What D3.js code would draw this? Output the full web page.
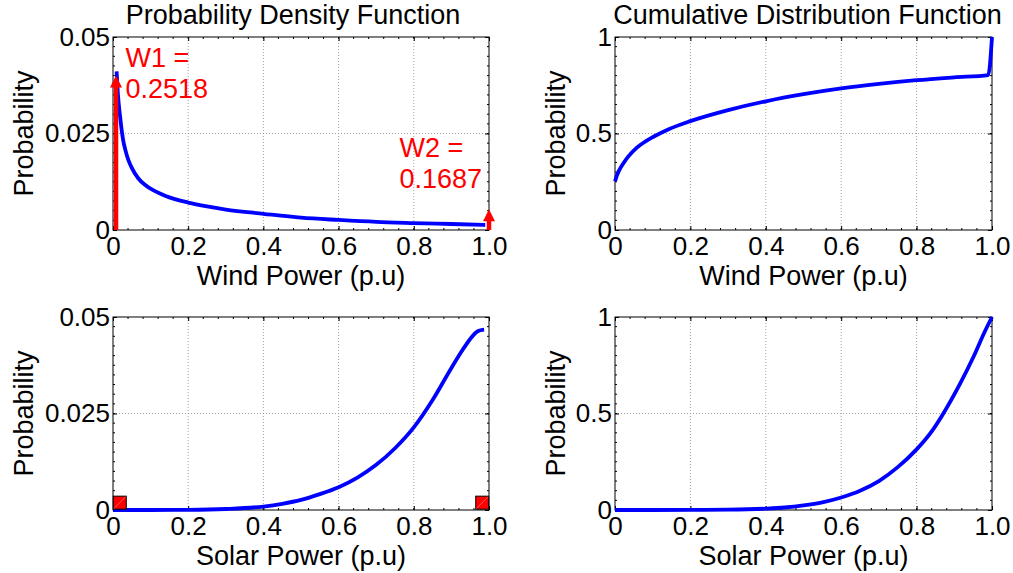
<!DOCTYPE html>
<html>
<head>
<meta charset="utf-8">
<script src="https://cdn.jsdelivr.net/npm/d3@7"></script>
<style>
  body { margin: 0; background: #fff; }
  svg text { font-family: "Liberation Sans", Arial, Helvetica, sans-serif; }
</style>
</head>
<body>
<div id="chart"></div>
<script>
// tick values and labels
var xTicks = [0, 0.2, 0.4, 0.6, 0.8, 1.0];
var xTickLabels = ["0", "0.2", "0.4", "0.6", "0.8", "1.0"];
var pdfTicks = [0, 0.025, 0.05];
var pdfTickLabels = ["0", "0.025", "0.05"];
var cdfTicks = [0, 0.5, 1];
var cdfTickLabels = ["0", "0.5", "1"];

// wind power pdf
var windPdfX = [0.0096, 0.013, 0.0186, 0.022, 0.027, 0.033, 0.041, 0.05, 0.067, 0.085, 0.1, 0.14, 0.2, 0.25, 0.3, 0.4, 0.5, 0.6, 0.7, 0.8, 0.9, 0.99];
var windPdfY = [0.0411, 0.0353, 0.0296, 0.0267, 0.0233, 0.0207, 0.0181, 0.0161, 0.0134, 0.0117, 0.0107, 0.0088, 0.0071, 0.0061, 0.0053, 0.0042, 0.0032, 0.0026, 0.0021, 0.0018, 0.00155, 0.0013];

// wind power cdf
var windCdfX = [0, 0.004, 0.01, 0.022, 0.035, 0.058, 0.08, 0.102, 0.141, 0.2, 0.3, 0.4, 0.5, 0.6, 0.7, 0.8, 0.9, 0.99, 1.0];
var windCdfY = [0.2518, 0.277, 0.305, 0.345, 0.38, 0.427, 0.458, 0.483, 0.521, 0.564, 0.621, 0.667, 0.704, 0.734, 0.757, 0.776, 0.791, 0.803, 1.0];

// solar power pdf
var solarPdfX = [0, 0.1, 0.2, 0.3, 0.4, 0.45, 0.5, 0.55, 0.6, 0.65, 0.7, 0.75, 0.8, 0.85, 0.9, 0.93, 0.95, 0.97, 0.987];
var solarPdfY = [0, 0.000001, 0.00004, 0.00026, 0.0009, 0.0016, 0.0026, 0.0041, 0.0059, 0.0084, 0.0117, 0.0160, 0.0214, 0.0285, 0.0368, 0.0415, 0.0443, 0.0463, 0.0467];

// solar power cdf
var solarCdfX = [0, 0.2, 0.3, 0.4, 0.45, 0.5, 0.55, 0.6, 0.65, 0.7, 0.75, 0.8, 0.844, 0.871, 0.915, 0.95, 0.981, 1.0];
var solarCdfY = [0, 0.0003, 0.0015, 0.007, 0.013, 0.024, 0.040, 0.065, 0.10, 0.150, 0.222, 0.314, 0.418, 0.5, 0.653, 0.79, 0.925, 1.0];

// probability masses of wind at 0 and 1 (arrows + text)
var windMassX = [0.008, 1.0];
var windMassTip = [0.040, 0.0054];
var windMassText = [["W1 =", "0.2518"], ["W2 =", "0.1687"]];
var windTextX = [0.033, 0.762];
var windTextY = [0.0422, 0.0189];

// solar end markers
var solarMarkX = [0.018, 0.982];
var solarMarkY = [0.0019, 0.0019];

var W = 1013, H = 573;
var FS = 27;      // titles, axis labels, annotations
var TICK_FS = 26; // tick labels

var svg = d3.select("#chart").append("svg")
    .attr("width", W)
    .attr("height", H);

var panels = [
    { left: 113, top: 37, right: 489, bottom: 230, yMax: 0.05, yTicks: pdfTicks, yLabels: pdfTickLabels,
      minorY: 0.0025, xs: windPdfX, ys: windPdfY, title: "Probability Density Function", titleDx: -8,
      xlabel: "Wind Power (p.u)", ylabelX: 33, kind: "windPdf" },
    { left: 615, top: 37, right: 992, bottom: 230, yMax: 1, yTicks: cdfTicks, yLabels: cdfTickLabels,
      minorY: 0.05, xs: windCdfX, ys: windCdfY, title: "Cumulative Distribution Function", titleDx: 4,
      xlabel: "Wind Power (p.u)", ylabelX: 565, kind: "cdf" },
    { left: 113, top: 317, right: 489, bottom: 510, yMax: 0.05, yTicks: pdfTicks, yLabels: pdfTickLabels,
      minorY: 0.0025, xs: solarPdfX, ys: solarPdfY, title: null,
      xlabel: "Solar Power (p.u)", ylabelX: 33, kind: "solarPdf" },
    { left: 615, top: 317, right: 992, bottom: 510, yMax: 1, yTicks: cdfTicks, yLabels: cdfTickLabels,
      minorY: 0.05, xs: solarCdfX, ys: solarCdfY, title: null,
      xlabel: "Solar Power (p.u)", ylabelX: 565, kind: "cdf" }
];

panels.forEach(function(p) {
    var x = d3.scaleLinear().domain([0, 1]).range([p.left, p.right]);
    var y = d3.scaleLinear().domain([0, p.yMax]).range([p.bottom, p.top]);
    var g = svg.append("g");

    // grid
    g.selectAll(".gx").data(xTicks.slice(1, -1)).enter().append("line")
        .attr("x1", function(d) { return x(d); }).attr("x2", function(d) { return x(d); })
        .attr("y1", p.top).attr("y2", p.bottom)
        .attr("stroke", "#a0a0a0").attr("stroke-width", 1).attr("stroke-dasharray", "1,2");
    g.selectAll(".gy").data(p.yTicks.slice(1, -1)).enter().append("line")
        .attr("x1", p.left).attr("x2", p.right)
        .attr("y1", function(d) { return y(d); }).attr("y2", function(d) { return y(d); })
        .attr("stroke", "#a0a0a0").attr("stroke-width", 1).attr("stroke-dasharray", "1,2");

    // minor ticks (inside, all four sides)
    var minorX = d3.range(0.04, 1, 0.04);
    var minorYs = d3.range(p.minorY, p.yMax - p.minorY / 2, p.minorY);
    minorX.forEach(function(v) {
        g.append("line").attr("x1", x(v)).attr("x2", x(v)).attr("y1", p.bottom).attr("y2", p.bottom - 2)
            .attr("stroke", "#000");
        g.append("line").attr("x1", x(v)).attr("x2", x(v)).attr("y1", p.top).attr("y2", p.top + 2)
            .attr("stroke", "#000");
    });
    minorYs.forEach(function(v) {
        g.append("line").attr("x1", p.left).attr("x2", p.left + 2).attr("y1", y(v)).attr("y2", y(v))
            .attr("stroke", "#000");
        g.append("line").attr("x1", p.right).attr("x2", p.right - 2).attr("y1", y(v)).attr("y2", y(v))
            .attr("stroke", "#000");
    });

    // axes with inward major ticks
    var xAxis = d3.axisBottom(x).tickValues(xTicks)
        .tickFormat(function(d, i) { return xTickLabels[i]; })
        .tickSizeInner(-4).tickSizeOuter(0).tickPadding(7);
    var yAxis = d3.axisLeft(y).tickValues(p.yTicks)
        .tickFormat(function(d, i) { return p.yLabels[i]; })
        .tickSizeInner(-4).tickSizeOuter(0).tickPadding(3);
    var gx = g.append("g").attr("transform", "translate(0," + p.bottom + ")").call(xAxis);
    var gy = g.append("g").attr("transform", "translate(" + p.left + ",0)").call(yAxis);
    [gx, gy].forEach(function(a) {
        a.select(".domain").remove();
        a.selectAll("text").attr("font-size", TICK_FS).attr("fill", "#000")
            .style("font-family", "Liberation Sans, Arial, sans-serif");
        a.selectAll("line").attr("stroke", "#000");
    });
    // mirrored major ticks on top and right
    var gt = g.append("g").attr("transform", "translate(0," + p.top + ")")
        .call(d3.axisTop(x).tickValues(xTicks).tickFormat("").tickSizeInner(-4).tickSizeOuter(0));
    var gr = g.append("g").attr("transform", "translate(" + p.right + ",0)")
        .call(d3.axisRight(y).tickValues(p.yTicks).tickFormat("").tickSizeInner(-4).tickSizeOuter(0));
    gt.select(".domain").remove();
    gr.select(".domain").remove();

    // box
    g.append("rect").attr("x", p.left).attr("y", p.top)
        .attr("width", p.right - p.left).attr("height", p.bottom - p.top)
        .attr("fill", "none").attr("stroke", "#000").attr("stroke-width", 1);

    // data line
    var pts = p.xs.map(function(v, i) { return [v, p.ys[i]]; });
    var line = d3.line()
        .x(function(d) { return x(d[0]); })
        .y(function(d) { return y(d[1]); })
        .curve(d3.curveMonotoneX);
    g.append("path").datum(pts).attr("d", line)
        .attr("fill", "none").attr("stroke", "#0000ff").attr("stroke-width", 3.8)
        .attr("stroke-linejoin", "round");

    if (p.kind === "windPdf") {
        windMassX.forEach(function(mx, i) {
            var tipY = y(windMassTip[i]);
            g.append("line").attr("x1", x(mx)).attr("x2", x(mx))
                .attr("y1", y(0)).attr("y2", tipY + 10)
                .attr("stroke", "#ff0000").attr("stroke-width", 4.5);
            g.append("path")
                .attr("d", "M" + (x(mx) - 6) + "," + (tipY + 12) + "L" + x(mx) + "," + tipY + "L" + (x(mx) + 6) + "," + (tipY + 12) + "Z")
                .attr("fill", "#ff0000");
            var t = g.append("text").attr("x", x(windTextX[i])).attr("y", y(windTextY[i]))
                .attr("font-size", FS).attr("fill", "#ff0000");
            windMassText[i].forEach(function(s, k) {
                t.append("tspan").attr("x", x(windTextX[i])).attr("dy", k === 0 ? 0 : 31).text(s);
            });
        });
    }
    if (p.kind === "solarPdf") {
        solarMarkX.forEach(function(mx, i) {
            var cx = x(mx), cy = y(solarMarkY[i]);
            g.append("rect").attr("x", cx - 6.5).attr("y", cy - 6.5).attr("width", 13).attr("height", 13)
                .attr("fill", "#ff0000").attr("stroke", "#000").attr("stroke-width", 1);
            g.append("line").attr("x1", cx - 6).attr("y1", cy + 6).attr("x2", cx + 6).attr("y2", cy - 6)
                .attr("stroke", "#fff").attr("stroke-opacity", 0.5).attr("stroke-width", 0.7);
        });
    }

    // titles and labels
    if (p.title) {
        g.append("text").attr("x", (p.left + p.right) / 2 + p.titleDx).attr("y", 24)
            .attr("text-anchor", "middle").attr("font-size", FS).text(p.title);
    }
    g.append("text").attr("x", (p.left + p.right) / 2).attr("y", p.bottom + 55)
        .attr("text-anchor", "middle").attr("font-size", FS).text(p.xlabel);
    g.append("text")
        .attr("transform", "translate(" + p.ylabelX + "," + ((p.top + p.bottom) / 2) + ") rotate(-90)")
        .attr("text-anchor", "middle").attr("font-size", FS).text("Probability");
});
</script>
</body>
</html>
